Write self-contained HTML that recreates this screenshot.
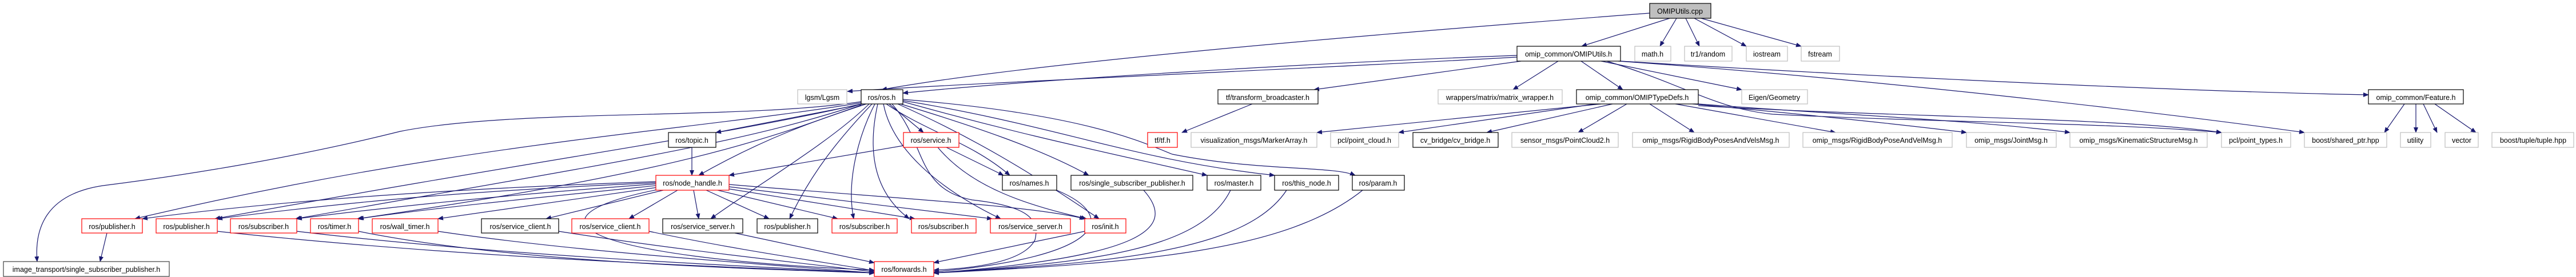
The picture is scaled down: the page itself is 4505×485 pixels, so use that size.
<!DOCTYPE html>
<html><head><meta charset="utf-8"><style>
html,body{margin:0;padding:0;background:#fff;}
svg{display:block;}
text{font-family:"Liberation Sans",sans-serif;font-size:12.5px;fill:#000;}
.e{fill:none;stroke:#191970;stroke-width:1.2;marker-end:url(#a);}
.b{fill:#fff;stroke:#000;stroke-width:1.2;}
.r{fill:#fff;stroke:#ff0000;stroke-width:1.2;}
.g{fill:#fff;stroke:#bfbfbf;stroke-width:1.2;}
</style></head><body>
<svg width="4505" height="485" viewBox="0 0 4505 485" xmlns="http://www.w3.org/2000/svg">
<defs><marker id="a" markerWidth="10" markerHeight="8" refX="9" refY="4" orient="auto" markerUnits="userSpaceOnUse"><path d="M0,0 L10,4 L0,8 z" fill="#191970"/></marker></defs>
<g>
<!-- cpp edges -->
<path class="e" d="M2885,23 C2400,60 1800,110 1542,157"/>
<path class="e" d="M2920,32 L2766,81"/>
<path class="e" d="M2932,32 L2903,81"/>
<path class="e" d="M2948,32 L2972,81"/>
<path class="e" d="M2963,32 L3054,81"/>
<path class="e" d="M2975,32 L3150,81"/>
<!-- OMIPUtils.h edges -->
<path class="e" d="M2653,97 C2300,110 1800,140 1579,163"/>
<path class="e" d="M2653,100 C2300,120 1700,145 1482,160"/>
<path class="e" d="M2660,107 L2298,157"/>
<path class="e" d="M2725,107 L2646,157"/>
<path class="e" d="M2765,107 L2838,157"/>
<path class="e" d="M2800,107 L3046,157"/>
<path class="e" d="M2834,107 C3200,130 3800,160 4142,166"/>
<path class="e" d="M2830,107 C3300,140 3800,200 4030,232"/>
<path class="e" d="M2810,107 C2950,150 3000,190 3100,200 C3400,215 3700,215 3885,232"/>
<!-- tfb -->
<path class="e" d="M2190,182 L2067,232"/>
<!-- typedefs -->
<path class="e" d="M2800,182 L2303,232"/>
<path class="e" d="M2790,182 L2446,232"/>
<path class="e" d="M2820,182 L2600,232"/>
<path class="e" d="M2845,182 L2760,232"/>
<path class="e" d="M2885,182 L2963,232"/>
<path class="e" d="M2930,182 L3210,232"/>
<path class="e" d="M2960,182 C3150,200 3300,215 3439,232"/>
<path class="e" d="M2970,182 C3200,200 3450,210 3620,232"/>
<path class="e" d="M2970,185 C3300,205 3700,205 3885,232"/>
<!-- feature -->
<path class="e" d="M4205,182 L4170,232"/>
<path class="e" d="M4225,182 L4225,232"/>
<path class="e" d="M4238,182 L4262,232"/>
<path class="e" d="M4258,182 L4330,232"/>
<!-- ros.h edges -->
<path class="e" d="M1506,178 C1300,210 900,190 700,230 C500,280 300,310 180,325 C80,340 60,400 65,458"/>
<path class="e" d="M1506,180 C1200,230 800,250 236,383"/>
<path class="e" d="M1506,182 C1250,240 1000,270 376,383"/>
<path class="e" d="M1506,182 C1300,250 1100,280 517,383"/>
<path class="e" d="M1506,184 C1350,240 1200,300 625,383"/>
<path class="e" d="M1510,182 L1252,232"/>
<path class="e" d="M1515,182 C1430,210 1340,240 1222,307"/>
<path class="e" d="M1555,182 L1615,232"/>
<path class="e" d="M1520,182 C1450,250 1330,320 1243,383"/>
<path class="e" d="M1525,182 C1470,240 1420,300 1381,383"/>
<path class="e" d="M1530,182 C1500,240 1480,320 1493,383"/>
<path class="e" d="M1535,182 C1520,250 1520,330 1590,383"/>
<path class="e" d="M1545,182 C1560,260 1640,330 1750,383"/>
<path class="e" d="M1550,182 C1620,230 1700,250 1766,307"/>
<path class="e" d="M1575,182 C1700,220 1820,260 1904,307"/>
<path class="e" d="M1579,178 C1800,240 1950,270 2111,307"/>
<path class="e" d="M1579,176 C1850,220 1980,280 2229,307"/>
<path class="e" d="M1579,174 C1900,200 2000,250 2050,270 C2200,300 2330,290 2370,307"/>
<path class="e" d="M1560,182 C1620,250 1600,330 1700,350 C1790,360 1820,380 1810,420 C1790,460 1700,470 1633,473"/>
<path class="e" d="M1570,182 C1700,240 1800,300 1922,383"/>
<!-- topic / service -->
<path class="e" d="M1210,258 L1210,307"/>
<path class="e" d="M1580,255 L1275,307"/>
<path class="e" d="M1655,258 L1755,307"/>
<path class="e" d="M1640,258 C1700,330 1800,360 1900,383"/>
<!-- node_handle edges -->
<path class="e" d="M1147,318 C800,330 500,350 249,383"/>
<path class="e" d="M1147,320 C800,335 600,355 380,383"/>
<path class="e" d="M1147,322 C900,340 700,360 519,383"/>
<path class="e" d="M1147,325 C950,345 750,365 627,383"/>
<path class="e" d="M1150,328 L766,383"/>
<path class="e" d="M1160,333 L955,383"/>
<path class="e" d="M1185,333 L1100,383"/>
<path class="e" d="M1213,333 L1222,383"/>
<path class="e" d="M1235,333 L1345,383"/>
<path class="e" d="M1255,333 L1465,383"/>
<path class="e" d="M1270,330 L1600,383"/>
<path class="e" d="M1275,327 L1735,383"/>
<path class="e" d="M1275,323 C1600,350 1800,360 1897,383"/>
<path class="e" d="M1160,330 C900,380 1000,450 1529,473"/>
<!-- bottom row to forwards -->
<path class="e" d="M187,408 L175,458"/>
<path class="e" d="M380,405 C800,450 1200,465 1529,478"/>
<path class="e" d="M519,405 C900,450 1300,465 1529,478"/>
<path class="e" d="M627,405 C900,460 1300,470 1529,478"/>
<path class="e" d="M766,405 C1000,440 1300,460 1529,478"/>
<path class="e" d="M977,405 C1200,440 1400,460 1529,476"/>
<path class="e" d="M1135,405 C1300,440 1450,460 1529,474"/>
<path class="e" d="M1285,408 L1529,460"/>
<path class="e" d="M1897,405 L1633,460"/>
<path class="e" d="M1848,333 C1960,380 1930,450 1633,476"/>
<path class="e" d="M2000,333 C2060,400 2000,450 1633,478"/>
<path class="e" d="M2152,333 C2100,440 1900,460 1633,478"/>
<path class="e" d="M2250,333 C2180,440 1950,460 1633,478"/>
<path class="e" d="M2383,333 C2250,440 2000,460 1633,478"/>
</g>
<g>
<rect class="g" x="2885" y="6" width="107" height="26" style="fill:#bfbfbf;stroke:#000"/><text x="2938" y="24" text-anchor="middle">OMIPUtils.cpp</text>
<rect class="b" x="2653" y="81" width="181" height="26"/><text x="2743" y="99" text-anchor="middle">omip_common/OMIPUtils.h</text>
<rect class="g" x="2859" y="81" width="63" height="26"/><text x="2890" y="99" text-anchor="middle">math.h</text>
<rect class="g" x="2946" y="81" width="83" height="26"/><text x="2987" y="99" text-anchor="middle">tr1/random</text>
<rect class="g" x="3054" y="81" width="72" height="26"/><text x="3090" y="99" text-anchor="middle">iostream</text>
<rect class="g" x="3150" y="81" width="67" height="26"/><text x="3183" y="99" text-anchor="middle">fstream</text>

<rect class="g" x="1395" y="157" width="86" height="25"/><text x="1438" y="175" text-anchor="middle">lgsm/Lgsm</text>
<rect class="b" x="1506" y="157" width="73" height="25"/><text x="1542" y="175" text-anchor="middle">ros/ros.h</text>
<rect class="b" x="2130" y="157" width="175" height="25"/><text x="2217" y="175" text-anchor="middle">tf/transform_broadcaster.h</text>
<rect class="g" x="2515" y="157" width="217" height="25"/><text x="2623" y="175" text-anchor="middle">wrappers/matrix/matrix_wrapper.h</text>
<rect class="b" x="2757" y="157" width="213" height="25"/><text x="2863" y="175" text-anchor="middle">omip_common/OMIPTypeDefs.h</text>
<rect class="g" x="3046" y="157" width="115" height="25"/><text x="3103" y="175" text-anchor="middle">Eigen/Geometry</text>
<rect class="b" x="4142" y="157" width="166" height="25"/><text x="4225" y="175" text-anchor="middle">omip_common/Feature.h</text>

<rect class="b" x="1169" y="232" width="83" height="26"/><text x="1210" y="250" text-anchor="middle">ros/topic.h</text>
<rect class="r" x="1580" y="232" width="97" height="26"/><text x="1628" y="250" text-anchor="middle">ros/service.h</text>
<rect class="r" x="2007" y="232" width="52" height="26"/><text x="2033" y="250" text-anchor="middle">tf/tf.h</text>
<rect class="g" x="2083" y="232" width="220" height="26"/><text x="2193" y="250" text-anchor="middle">visualization_msgs/MarkerArray.h</text>
<rect class="g" x="2327" y="232" width="119" height="26"/><text x="2386" y="250" text-anchor="middle">pcl/point_cloud.h</text>
<rect class="b" x="2471" y="232" width="149" height="26"/><text x="2545" y="250" text-anchor="middle">cv_bridge/cv_bridge.h</text>
<rect class="g" x="2644" y="232" width="186" height="26"/><text x="2737" y="250" text-anchor="middle">sensor_msgs/PointCloud2.h</text>
<rect class="g" x="2855" y="232" width="274" height="26"/><text x="2992" y="250" text-anchor="middle">omip_msgs/RigidBodyPosesAndVelsMsg.h</text>
<rect class="g" x="3153" y="232" width="261" height="26"/><text x="3283" y="250" text-anchor="middle">omip_msgs/RigidBodyPoseAndVelMsg.h</text>
<rect class="g" x="3439" y="232" width="157" height="26"/><text x="3517" y="250" text-anchor="middle">omip_msgs/JointMsg.h</text>
<rect class="g" x="3620" y="232" width="240" height="26"/><text x="3740" y="250" text-anchor="middle">omip_msgs/KinematicStructureMsg.h</text>
<rect class="g" x="3885" y="232" width="121" height="26"/><text x="3945" y="250" text-anchor="middle">pcl/point_types.h</text>
<rect class="g" x="4030" y="232" width="144" height="26"/><text x="4102" y="250" text-anchor="middle">boost/shared_ptr.hpp</text>
<rect class="g" x="4198" y="232" width="53" height="26"/><text x="4224" y="250" text-anchor="middle">utility</text>
<rect class="g" x="4276" y="232" width="58" height="26"/><text x="4305" y="250" text-anchor="middle">vector</text>
<rect class="g" x="4358" y="232" width="143" height="26"/><text x="4430" y="250" text-anchor="middle">boost/tuple/tuple.hpp</text>

<rect class="r" x="1147" y="307" width="128" height="26"/><text x="1211" y="325" text-anchor="middle">ros/node_handle.h</text>
<rect class="b" x="1753" y="307" width="95" height="26"/><text x="1800" y="325" text-anchor="middle">ros/names.h</text>
<rect class="b" x="1873" y="307" width="213" height="26"/><text x="1980" y="325" text-anchor="middle">ros/single_subscriber_publisher.h</text>
<rect class="b" x="2111" y="307" width="94" height="26"/><text x="2158" y="325" text-anchor="middle">ros/master.h</text>
<rect class="b" x="2229" y="307" width="112" height="26"/><text x="2285" y="325" text-anchor="middle">ros/this_node.h</text>
<rect class="b" x="2365" y="307" width="91" height="26"/><text x="2410" y="325" text-anchor="middle">ros/param.h</text>

<rect class="r" x="143" y="383" width="106" height="25"/><text x="196" y="401" text-anchor="middle">ros/publisher.h</text>
<rect class="r" x="273" y="383" width="107" height="25"/><text x="326" y="401" text-anchor="middle">ros/publisher.h</text>
<rect class="r" x="403" y="383" width="116" height="25"/><text x="461" y="401" text-anchor="middle">ros/subscriber.h</text>
<rect class="r" x="543" y="383" width="84" height="25"/><text x="585" y="401" text-anchor="middle">ros/timer.h</text>
<rect class="r" x="651" y="383" width="115" height="25"/><text x="708" y="401" text-anchor="middle">ros/wall_timer.h</text>
<rect class="b" x="842" y="383" width="135" height="25"/><text x="910" y="401" text-anchor="middle">ros/service_client.h</text>
<rect class="r" x="1000" y="383" width="135" height="25"/><text x="1067" y="401" text-anchor="middle">ros/service_client.h</text>
<rect class="b" x="1159" y="383" width="140" height="25"/><text x="1229" y="401" text-anchor="middle">ros/service_server.h</text>
<rect class="b" x="1324" y="383" width="106" height="25"/><text x="1377" y="401" text-anchor="middle">ros/publisher.h</text>
<rect class="r" x="1455" y="383" width="114" height="25"/><text x="1512" y="401" text-anchor="middle">ros/subscriber.h</text>
<rect class="r" x="1594" y="383" width="113" height="25"/><text x="1650" y="401" text-anchor="middle">ros/subscriber.h</text>
<rect class="r" x="1732" y="383" width="140" height="25"/><text x="1802" y="401" text-anchor="middle">ros/service_server.h</text>
<rect class="r" x="1897" y="383" width="72" height="25"/><text x="1933" y="401" text-anchor="middle">ros/init.h</text>

<rect class="b" x="6" y="458" width="290" height="26" style="stroke:#404040"/><text x="151" y="476" text-anchor="middle">image_transport/single_subscriber_publisher.h</text>
<rect class="r" x="1529" y="458" width="104" height="26"/><text x="1581" y="476" text-anchor="middle">ros/forwards.h</text>
</g>
</svg>
</body></html>
